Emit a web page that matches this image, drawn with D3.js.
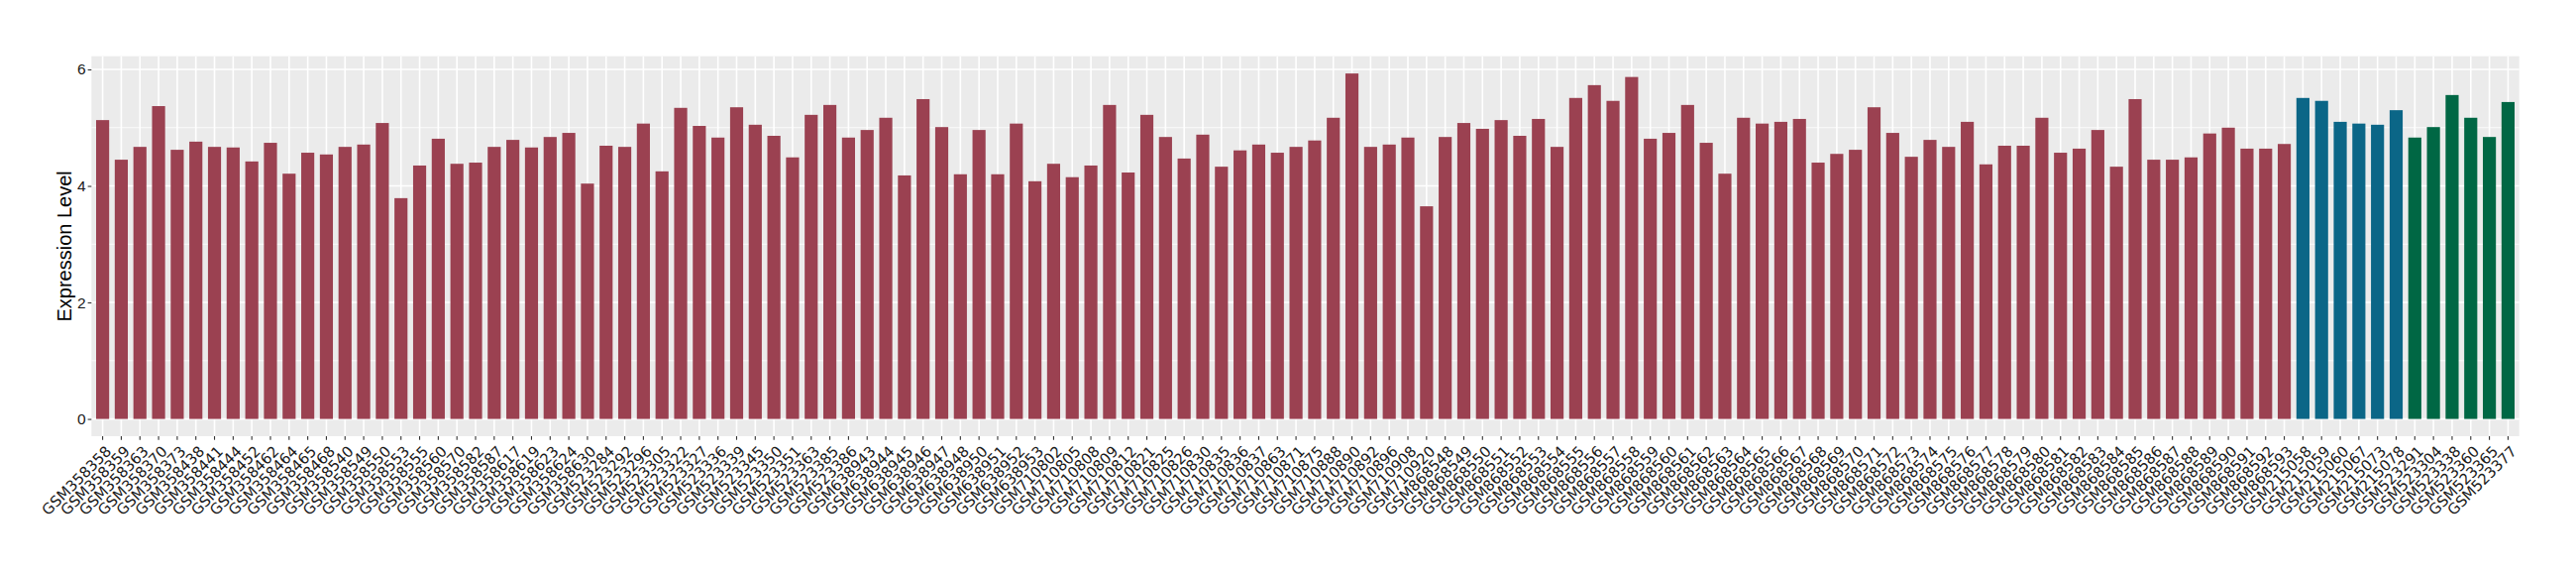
<!DOCTYPE html>
<html>
<head>
<meta charset="utf-8">
<script src="https://cdn.jsdelivr.net/npm/d3@7"></script>
<style>
  html, body { margin: 0; padding: 0; background: #ffffff; }
  svg { display: block; }
</style>
</head>
<body>
<svg id="chart" width="2600" height="580"></svg>
<script>
// ---- Data ----
const groupA_samples = [
  "GSM358358","GSM358359","GSM358363","GSM358370","GSM358373","GSM358438","GSM358441","GSM358444","GSM358452","GSM358462",
  "GSM358464","GSM358465","GSM358468","GSM358540","GSM358549","GSM358550","GSM358553","GSM358555","GSM358560","GSM358570",
  "GSM358582","GSM358587","GSM358617","GSM358619","GSM358623","GSM358624","GSM358630","GSM523284","GSM523292","GSM523296",
  "GSM523305","GSM523322","GSM523327","GSM523336","GSM523339","GSM523345","GSM523350","GSM523351","GSM523363","GSM523385",
  "GSM523386","GSM638943","GSM638944","GSM638945","GSM638946","GSM638947","GSM638948","GSM638950","GSM638951","GSM638952",
  "GSM638953","GSM710802","GSM710805","GSM710808","GSM710809","GSM710812","GSM710821","GSM710825","GSM710826","GSM710830",
  "GSM710835","GSM710836","GSM710837","GSM710863","GSM710871","GSM710875","GSM710888","GSM710890","GSM710892","GSM710896",
  "GSM710908","GSM710920","GSM868548","GSM868549","GSM868550","GSM868551","GSM868552","GSM868553","GSM868554","GSM868555",
  "GSM868556","GSM868557","GSM868558","GSM868559","GSM868560","GSM868561","GSM868562","GSM868563","GSM868564","GSM868565",
  "GSM868566","GSM868567","GSM868568","GSM868569","GSM868570","GSM868571","GSM868572","GSM868573","GSM868574","GSM868575",
  "GSM868576","GSM868577","GSM868578","GSM868579","GSM868580","GSM868581","GSM868582","GSM868583","GSM868584","GSM868585",
  "GSM868586","GSM868587","GSM868588","GSM868589","GSM868590","GSM868591","GSM868592","GSM868593"
];
const groupA_values = [
  5.13,4.45,4.67,5.37,4.62,4.76,4.67,4.66,4.42,4.74,
  4.21,4.57,4.54,4.67,4.71,5.08,3.79,4.35,4.81,4.38,
  4.40,4.67,4.79,4.66,4.84,4.91,4.04,4.69,4.67,5.07,
  4.25,5.34,5.03,4.83,5.35,5.05,4.86,4.49,5.22,5.39,
  4.83,4.96,5.17,4.18,5.49,5.01,4.20,4.96,4.20,5.07,
  4.08,4.38,4.15,4.35,5.39,4.23,5.22,4.84,4.47,4.88,
  4.33,4.61,4.71,4.57,4.67,4.78,5.17,5.93,4.67,4.71,
  4.83,3.65,4.84,5.08,4.98,5.13,4.86,5.15,4.67,5.51,
  5.73,5.46,5.87,4.81,4.91,5.39,4.74,4.21,5.17,5.07,
  5.10,5.15,4.40,4.55,4.62,5.35,4.91,4.50,4.79,4.67,
  5.10,4.37,4.69,4.69,5.17,4.57,4.64,4.96,4.33,5.49,
  4.45,4.45,4.49,4.90,5.00,4.64,4.64,4.72
];
const groupB_samples = ["GSM215058","GSM215059","GSM215060","GSM215067","GSM215073","GSM215078"];
const groupB_values  = [5.51,5.46,5.10,5.07,5.05,5.30];
const groupC_samples = ["GSM523291","GSM523304","GSM523338","GSM523360","GSM523365","GSM523377"];
const groupC_values  = [4.83,5.01,5.56,5.17,4.84,5.44];

const groupNames  = ["A","B","C"];
const groupColors = ["#9b4151","#0b6687","#006744"];
const yTicks      = [0,2,4,6];
const yMinorTicks = [1,3,5];
const yTitle      = "Expression Level";

// ---- Build table ----
const rows = [];
[[groupA_samples, groupA_values], [groupB_samples, groupB_values], [groupC_samples, groupC_values]]
  .forEach(([s, v], gi) => s.forEach((name, i) => rows.push({ sample: name, value: v[i], group: groupNames[gi] })));

// ---- Layout ----
const panel = { left: 92.3, right: 2542.7, top: 56.7, bottom: 440 };
const svg = d3.select("#chart");

const x = d3.scaleBand()
  .domain(rows.map(d => d.sample))
  .range([panel.left, panel.right])
  .paddingInner(0.3)
  .paddingOuter(0.25);

const yMax = d3.max(rows, d => d.value);
const pad = yMax * 0.05;
const y = d3.scaleLinear().domain([-pad, yMax + pad]).range([panel.bottom, panel.top]);

const color = d3.scaleOrdinal().domain(groupNames).range(groupColors);

// panel background
svg.append("rect")
  .attr("x", panel.left).attr("y", panel.top)
  .attr("width", panel.right - panel.left).attr("height", panel.bottom - panel.top)
  .attr("fill", "#ebebeb");

// grid
const grid = svg.append("g");
grid.selectAll(".ymin").data(yMinorTicks).join("line")
  .attr("x1", panel.left).attr("x2", panel.right)
  .attr("y1", d => y(d)).attr("y2", d => y(d))
  .attr("stroke", "#ffffff").attr("stroke-width", 0.8);
grid.selectAll(".ymaj").data(yTicks).join("line")
  .attr("x1", panel.left).attr("x2", panel.right)
  .attr("y1", d => y(d)).attr("y2", d => y(d))
  .attr("stroke", "#ffffff").attr("stroke-width", 1.6);
grid.selectAll(".xmaj").data(rows).join("line")
  .attr("x1", d => x(d.sample) + x.bandwidth() / 2).attr("x2", d => x(d.sample) + x.bandwidth() / 2)
  .attr("y1", panel.top).attr("y2", panel.bottom)
  .attr("stroke", "#ffffff").attr("stroke-width", 1.6);

// bars
svg.append("g").selectAll("rect").data(rows).join("rect")
  .attr("x", d => x(d.sample))
  .attr("width", x.bandwidth())
  .attr("y", d => y(d.value))
  .attr("height", d => y(0) - y(d.value))
  .attr("fill", d => color(d.group));

// y axis
const yAxis = svg.append("g")
  .attr("transform", `translate(${panel.left},0)`)
  .call(d3.axisLeft(y).tickValues(yTicks).tickFormat(d3.format("d")).tickSize(3.7).tickPadding(2));
yAxis.select(".domain").remove();
yAxis.selectAll(".tick line").attr("stroke", "#333333").attr("stroke-width", 1.1);
yAxis.selectAll(".tick text")
  .attr("font-family", "'Liberation Sans', Arial, sans-serif")
  .attr("font-size", 15.5).attr("fill", "#1a1a1a");

// x axis
const xAxis = svg.append("g")
  .attr("transform", `translate(0,${panel.bottom})`)
  .call(d3.axisBottom(x).tickSize(3.7).tickPadding(0));
xAxis.select(".domain").remove();
xAxis.selectAll(".tick line").attr("stroke", "#333333").attr("stroke-width", 1.1);
xAxis.selectAll(".tick text")
  .attr("font-family", "'DejaVu Sans', sans-serif")
  .attr("font-size", 15).attr("fill", "#1a1a1a")
  .attr("text-anchor", "end")
  .attr("y", 0)
  .attr("dy", 0)
  .attr("transform", "translate(9.6,16.2) rotate(-45)");

// y title
svg.append("text")
  .attr("transform", `translate(72,${(panel.top + panel.bottom) / 2}) rotate(-90)`)
  .attr("text-anchor", "middle")
  .attr("font-family", "'Liberation Sans', Arial, sans-serif")
  .attr("font-size", 20).attr("fill", "#000000")
  .text(yTitle);
</script>
</body>
</html>
